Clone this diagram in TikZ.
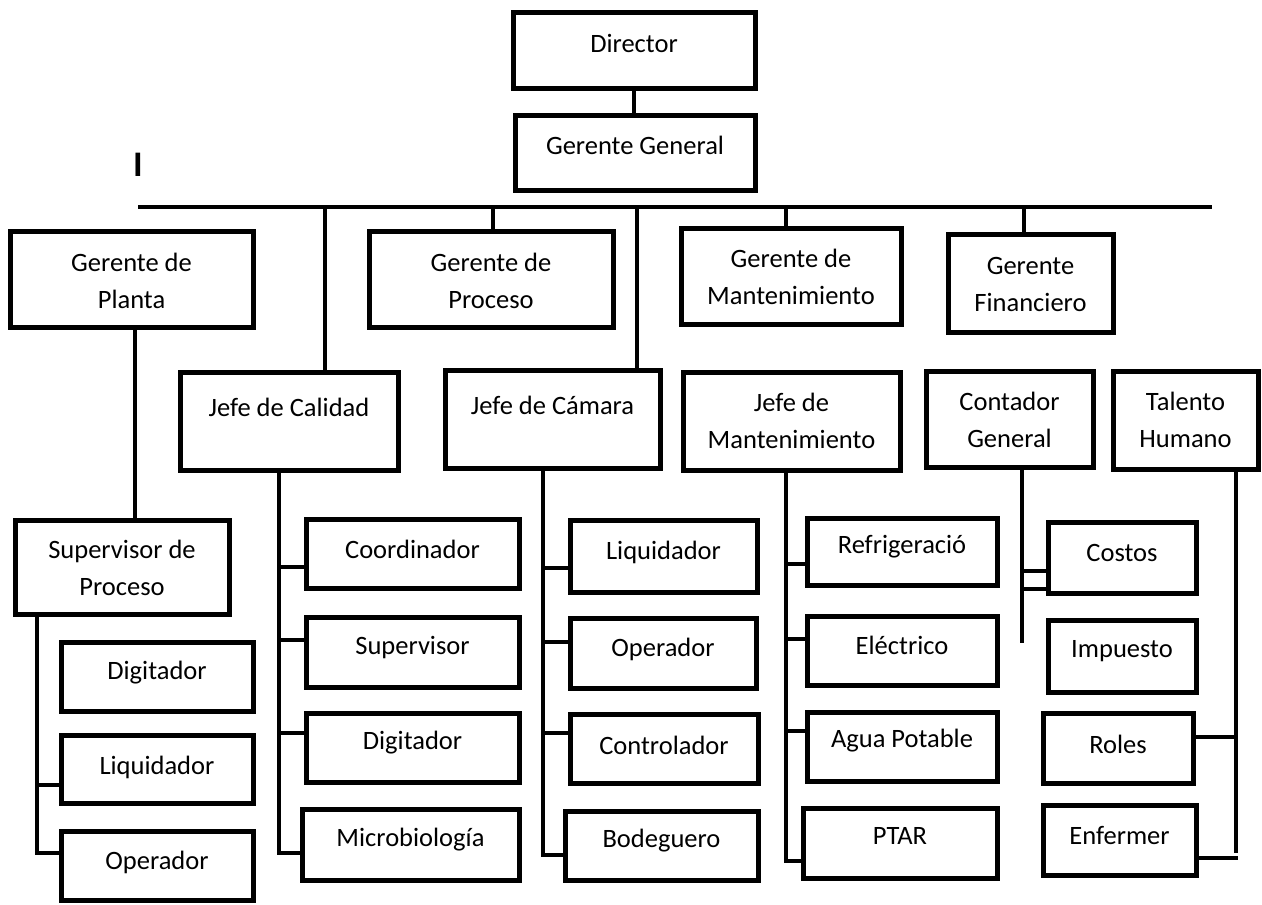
\documentclass[tikz,border=0pt]{standalone}
\usepackage{fontspec}
\setmainfont{Carlito}
\usetikzlibrary{fit}

\begin{document}
\begin{tikzpicture}[x=1pt, y=-1pt,
  caja/.style={draw, line width=5pt, inner sep=0pt},
  rotulo/.style={font=\fontsize{26.5}{37}\selectfont, align=center, inner sep=0pt},
  linea/.style={line width=4.5pt}]

\useasboundingbox (0,0) rectangle (1262,905);

% top
\node[caja, fit={(513,12) (755,88)}] (dir) {};
\node[caja, fit={(515,115) (755,190)}] (gg) {};
\node[rotulo] (dirT) at (dir.center |- 0,43) {Director};
\node[rotulo] (ggT) at (gg.center |- 0,145) {Gerente General};
\node[font=\fontsize{36}{36}\selectfont\bfseries, inner sep=0pt] (marca) at (138,165) {I};

\draw[linea] (dir.south) -- (dir.south |- gg.north);
\coordinate (busL) at (138,207);
\coordinate (busR) at (1212,207);
\draw[linea] (busL) -- (busR);

% gerentes
\begin{scope}[every node/.style={caja}]
\node[fit={(10,231) (253,327)}] (planta) {};
\node[fit={(369,231) (613,327)}] (proc) {};
\node[fit={(681,228) (901,324)}] (gmant) {};
\node[fit={(948,234) (1113,332)}] (fin) {};
\end{scope}
\node[rotulo] (plantaT) at (planta.center |- 0,281) {Gerente de\\Planta};
\node[rotulo] (procT) at (proc.center |- 0,281) {Gerente de\\Proceso};
\node[rotulo] (gmantT) at (gmant.center |- 0,277) {Gerente de\\Mantenimiento};
\node[rotulo] (finT) at (fin.center |- 0,284) {Gerente\\Financiero};

% jefes
\begin{scope}[every node/.style={caja}]
\node[fit={(180,372) (398,470)}] (cal) {};
\node[fit={(445,370) (660,468)}] (cam) {};
\node[fit={(683,372) (900,470)}] (jmant) {};
\node[fit={(926,371) (1093,467)}] (cont) {};
\node[fit={(1113,371) (1258,469)}] (tal) {};
\node[fit={(15,520) (229,614)}] (sup) {};
\end{scope}
\node[rotulo] (calT) at (cal.center |- 0,407) {Jefe de Calidad};
\node[rotulo] (camT) at (cam.center |- 0,405) {Jefe de Cámara};
\node[rotulo] (jmantT) at (jmant.center |- 0,421) {Jefe de\\Mantenimiento};
\node[rotulo] (contT) at (cont.center |- 0,420) {Contador\\General};
\node[rotulo] (talT) at (tal.center |- 0,420) {Talento\\Humano};
\node[rotulo] (supT) at (sup.center |- 0,568) {Supervisor de\\Proceso};

\draw[linea] (busL -| 325,0) -- (cal.north -| 325,0);
\draw[linea] (busL -| 493,0) -- (proc.north -| 493,0);
\draw[linea] (busL -| 637,0) -- (cam.north -| 637,0);
\draw[linea] (busL -| 786,0) -- (gmant.north -| 786,0);
\draw[linea] (busL -| 1024,0) -- (fin.north -| 1024,0);
\draw[linea] (planta.south -| 135,0) -- (sup.north -| 135,0);

% puestos
\begin{scope}[every node/.style={caja}]
\node[fit={(61,642) (253,711)}] (dig1) {};
\node[fit={(61,735) (253,803)}] (liq1) {};
\node[fit={(61,831) (253,900)}] (op1) {};

\node[fit={(306,519) (519,588)}] (coord) {};
\node[fit={(306,617) (519,687)}] (sup2) {};
\node[fit={(306,713) (519,782)}] (dig2) {};
\node[fit={(302,809) (519,880)}] (micro) {};

\node[fit={(570,520) (757,592)}] (liq2) {};
\node[fit={(570,618) (756,688)}] (op2) {};
\node[fit={(570,714) (758,783)}] (ctrl) {};
\node[fit={(565,811) (758,880)}] (bod) {};

\node[fit={(807,518) (997,585)}] (refr) {};
\node[fit={(807,616) (997,685)}] (elec) {};
\node[fit={(807,712) (997,781)}] (agua) {};
\node[fit={(803,808) (997,878)}] (ptar) {};

\node[fit={(1048,522) (1196,593)}] (costos) {};
\node[fit={(1048,620) (1196,692)}] (imp) {};
\node[fit={(1043,713) (1193,783)}] (roles) {};
\node[fit={(1043,805) (1196,875)}] (enf) {};
\end{scope}

\node[rotulo] (dig1T) at (dig1.center |- 0,673) {Digitador};
\node[rotulo] (liq1T) at (liq1.center |- 0,767) {Liquidador};
\node[rotulo] (op1T) at (op1.center |- 0,862) {Operador};
\node[rotulo] (coordT) at (coord.center |- 0,549) {Coordinador};
\node[rotulo] (sup2T) at (sup2.center |- 0,648) {Supervisor};
\node[rotulo] (dig2T) at (dig2.center |- 0,743) {Digitador};
\node[rotulo] (microT) at (micro.center |- 0,840) {Microbiología};
\node[rotulo] (liq2T) at (liq2.center |- 0,552) {Liquidador};
\node[rotulo] (op2T) at (op2.center |- 0,649) {Operador};
\node[rotulo] (ctrlT) at (ctrl.center |- 0,745) {Controlador};
\node[rotulo] (bodT) at (bod.center |- 0,841) {Bodeguero};
\node[rotulo] (refrT) at (refr.center |- 0,547) {Refrigeració};
\node[rotulo] (elecT) at (elec.center |- 0,645) {Eléctrico};
\node[rotulo] (aguaT) at (agua.center |- 0,741) {Agua Potable};
\node[rotulo] (ptarT) at (ptar.center |- 0,836) {PTAR};
\node[rotulo] (costosT) at (costos.center |- 0,553) {Costos};
\node[rotulo] (impT) at (imp.center |- 0,651) {Impuesto};
\node[rotulo] (rolesT) at (roles.center |- 0,744) {Roles};
\node[rotulo] (enfT) at (enf.center |- 0,835) {Enfermer};

% ramas
\draw[linea] (sup.south -| 37,0) -- (37,853) -- (op1.west |- 0,853);
\draw[linea] (37,785) -- (liq1.west |- 0,785);

\draw[linea] (cal.south -| 279,0) -- (279,853) -- (micro.west |- 0,853);
\draw[linea] (279,567) -- (coord.west |- 0,567);
\draw[linea] (279,640) -- (sup2.west |- 0,640);
\draw[linea] (279,733) -- (dig2.west |- 0,733);

\draw[linea] (cam.south -| 543,0) -- (543,855) -- (bod.west |- 0,855);
\draw[linea] (543,568) -- (liq2.west |- 0,568);
\draw[linea] (543,642) -- (op2.west |- 0,642);
\draw[linea] (543,733) -- (ctrl.west |- 0,733);

\draw[linea] (jmant.south -| 786,0) -- (786,861) -- (ptar.west |- 0,861);
\draw[linea] (786,564) -- (refr.west |- 0,564);
\draw[linea] (786,639) -- (elec.west |- 0,639);
\draw[linea] (786,731) -- (agua.west |- 0,731);

\draw[linea] (cont.south -| 1022,0) -- (1022,643);
\draw[linea] (1022,571) -- (costos.west |- 0,571);
\draw[linea] (1022,589) -- (costos.west |- 0,589);

\draw[linea] (tal.south -| 1236,0) -- (1236,853);
\draw[linea] (roles.east |- 0,737) -- (1236,737);
\draw[linea] (enf.east |- 0,858) -- (1238,858);

\end{tikzpicture}
\end{document}
